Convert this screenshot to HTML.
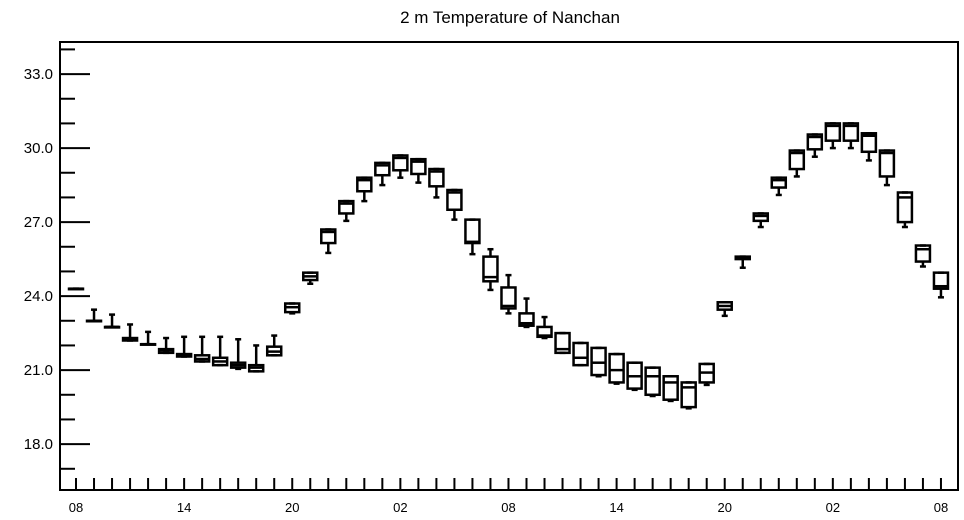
<!DOCTYPE html>
<html><head><meta charset="utf-8"><style>
html,body{margin:0;padding:0;background:#fff;}
svg{display:block;font-family:"Liberation Sans",sans-serif;}
</style></head><body>
<svg id="chart" width="964" height="520" viewBox="0 0 964 520">
<text x="510" y="23" text-anchor="middle" font-size="17">2 m Temperature of Nanchan</text>
<g id="axes"></g>
<g id="boxes"></g>
</svg>
<script>
const hours = ["08","09","10","11","12","13","14","15","16","17","18","19","20","21","22","23","00","01","02","03","04","05","06","07","08","09","10","11","12","13","14","15","16","17","18","19","20","21","22","23","00","01","02","03","04","05","06","07","08"];
const maxV = [24.3,23.45,23.25,22.85,22.55,22.3,22.35,22.35,22.35,22.25,22.0,22.4,23.7,24.95,26.7,27.85,28.8,29.4,29.7,29.55,29.15,28.3,27.1,25.9,24.85,23.9,23.15,22.5,22.1,21.9,21.65,21.3,21.1,20.75,20.5,21.25,23.75,25.6,27.35,28.8,29.9,30.55,31.0,31.0,30.6,29.9,28.2,26.05,24.95];
const q3V = [24.3,23.0,22.75,22.3,22.05,21.85,21.65,21.6,21.5,21.3,21.2,21.95,23.7,24.95,26.7,27.85,28.8,29.4,29.7,29.55,29.15,28.3,27.1,25.6,24.35,23.3,22.75,22.5,22.1,21.9,21.65,21.3,21.1,20.75,20.5,21.25,23.75,25.6,27.35,28.8,29.9,30.55,31.0,31.0,30.6,29.9,28.2,26.05,24.95];
const medV = [24.3,23.0,22.75,22.25,22.05,21.8,21.6,21.45,21.35,21.2,21.1,21.75,23.55,24.8,26.6,27.75,28.7,29.3,29.6,29.45,29.05,28.2,26.2,24.77,23.6,22.9,22.4,21.85,21.5,21.3,21.0,20.75,20.75,20.5,20.3,20.9,23.6,25.55,27.25,28.7,29.8,30.45,30.9,30.9,30.5,29.8,28.0,25.9,24.4];
const q1V = [24.3,23.0,22.75,22.2,22.05,21.7,21.55,21.35,21.2,21.1,20.95,21.6,23.35,24.65,26.15,27.35,28.25,28.9,29.1,28.95,28.45,27.5,26.15,24.6,23.5,22.8,22.35,21.7,21.2,20.8,20.5,20.25,20.0,19.8,19.5,20.5,23.45,25.5,27.05,28.4,29.15,29.95,30.3,30.3,29.85,28.85,27.0,25.4,24.3];
const minV = [24.3,23.0,22.75,22.2,22.05,21.7,21.55,21.35,21.2,21.05,20.95,21.6,23.3,24.5,25.75,27.05,27.85,28.5,28.8,28.6,28.0,27.1,25.7,24.25,23.3,22.75,22.3,21.7,21.2,20.75,20.45,20.2,19.95,19.75,19.45,20.4,23.2,25.15,26.8,28.1,28.85,29.65,30.0,30.0,29.5,28.5,26.8,25.2,23.95];
const yTicks = [18,21,24,27,30,33];
const yTickLabels = ["18.0","21.0","24.0","27.0","30.0","33.0"];
const xLabelEvery = 6;

const L=60,R=958,T=42,B=490;
const yMin=16.14,yMax=34.3;
function ys(v){return B-(v-yMin)/(yMax-yMin)*(B-T);}
function xs(i){return 76+i*18.02;}
const NS="http://www.w3.org/2000/svg";
function mk(tag,attrs,parent){const e=document.createElementNS(NS,tag);for(const k in attrs)e.setAttribute(k,attrs[k]);parent.appendChild(e);return e;}
const axes=document.getElementById('axes');
const boxes=document.getElementById('boxes');

const frame=mk('rect',{x:L,y:T,width:R-L,height:B-T,fill:'none',stroke:'#000','stroke-width':2},axes);



for(let v=17;v<=34;v++){
  const y=ys(v);
  const major=yTicks.indexOf(v)>=0;
  const t=mk('line',{x1:L,x2:L+(major?30:15),y1:y,y2:y,stroke:'#000','stroke-width':2},axes);
  
  
}
yTicks.forEach((v,i)=>{
  const t=mk('text',{x:L-7,y:ys(v)+5,'text-anchor':'end','font-size':15},axes);
  t.textContent=yTickLabels[i];
  
  
});
hours.forEach((h,i)=>{
  const x=xs(i);
  const t=mk('line',{x1:x,x2:x,y1:B,y2:B-12,stroke:'#000','stroke-width':2},axes);
  
  
  if(i%xLabelEvery===0){
    const tx=mk('text',{x:x,y:512,'text-anchor':'middle','font-size':13},axes);
    tx.textContent=h;
    
    
  }
});

hours.forEach((h,i)=>{
  const x=xs(i),w=14;
  const g=mk('g',{stroke:'#000','stroke-width':2.5,fill:'none'},boxes);
  
  
  const yq3=ys(q3V[i]),yq1=ys(q1V[i]);
  mk('line',{x1:x,x2:x,y1:ys(maxV[i]),y2:yq3},g);
  mk('line',{x1:x-3,x2:x+3,y1:ys(maxV[i]),y2:ys(maxV[i])},g);
  mk('line',{x1:x,x2:x,y1:yq1,y2:ys(minV[i])},g);
  mk('line',{x1:x-3,x2:x+3,y1:ys(minV[i]),y2:ys(minV[i])},g);
  mk('rect',{x:x-w/2,y:yq3,width:w,height:Math.max(yq1-yq3,0.5)},g);
  mk('line',{x1:x-w/2,x2:x+w/2,y1:ys(medV[i]),y2:ys(medV[i])},g);
});
</script>
</body></html>
